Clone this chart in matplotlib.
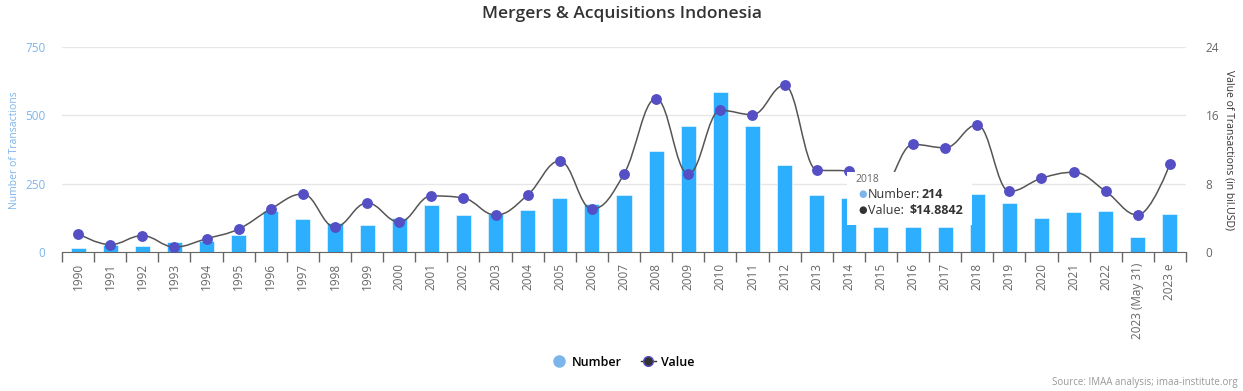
import numpy as np
import matplotlib
matplotlib.use("Agg")
import matplotlib.pyplot as plt
from matplotlib.path import Path
from matplotlib.patches import PathPatch, Rectangle
from matplotlib.lines import Line2D

plt.rcParams['font.family'] = ['Open Sans', 'DejaVu Sans']

# data
years = [str(y) for y in range(1990, 2023)] + ["2023 (May 31)", "2023 e"]
number = [15, 27, 22, 38, 40, 62, 150, 121, 105, 99, 124,
          172, 135, 139, 154, 198, 176, 209, 368, 460, 584,
          460, 317, 209, 198, 90, 90, 90, 214, 179, 124,
          146, 150, 55, 140]
value = [2.15, 0.86, 1.91, 0.59, 1.56, 2.69, 5.04, 6.79, 2.93, 5.74, 3.51,
         6.56, 6.32, 4.33, 6.67, 10.66, 5.04, 9.13, 17.95, 9.13, 16.59,
         16.08, 19.52, 9.6, 9.48, 7.5, 12.6, 12.2, 14.8842, 7.1, 8.63,
         9.33, 7.1, 4.33, 10.3]
left_ticks = [0, 250, 500, 750]
right_ticks = [0, 8, 16, 24]

BAR = "#2caffe"
PT = "#544fc5"
LIGHT = "#7cb5ec"
W, H = 1243, 391


def spline_path(xs, ys, smoothing=1.5):
    """Highcharts-like spline through the points, as bezier segments"""
    n = len(xs)
    left = [(xs[i], ys[i]) for i in range(n)]
    right = [(xs[i], ys[i]) for i in range(n)]
    denom = smoothing + 1
    for i in range(1, n - 1):
        px, py = xs[i], ys[i]
        lx, ly = xs[i - 1], ys[i - 1]
        nx, ny = xs[i + 1], ys[i + 1]
        lcx = (smoothing * px + lx) / denom
        lcy = (smoothing * py + ly) / denom
        rcx = (smoothing * px + nx) / denom
        rcy = (smoothing * py + ny) / denom
        corr = (rcy - lcy) * (rcx - px) / (rcx - lcx) + py - rcy
        lcy += corr
        rcy += corr
        if lcy > ly and lcy > py:
            lcy = max(ly, py); rcy = 2 * py - lcy
        elif lcy < ly and lcy < py:
            lcy = min(ly, py); rcy = 2 * py - lcy
        if rcy > ny and rcy > py:
            rcy = max(ny, py); lcy = 2 * py - rcy
        elif rcy < ny and rcy < py:
            rcy = min(ny, py); lcy = 2 * py - rcy
        left[i] = (lcx, lcy)
        right[i] = (rcx, rcy)
    verts = [(xs[0], ys[0])]
    codes = [Path.MOVETO]
    for i in range(1, n):
        verts += [right[i - 1], left[i], (xs[i], ys[i])]
        codes += [Path.CURVE4] * 3
    return Path(verts, codes)


fig = plt.figure(figsize=(W / 100, H / 100), dpi=100)
ax = fig.add_axes([62 / W, 1 - 252 / H, (1186 - 62) / W, 205 / H])
ax2 = ax.twinx()

x = np.arange(len(years))
ax.bar(x, number, width=0.47, color=BAR, edgecolor="white", linewidth=0.4, zorder=2)
ax.set_xlim(-0.5, len(years) - 0.5)
ax.set_ylim(0, 750)
ax.set_yticks(left_ticks)
ax.grid(axis="y", color="#e6e6e6", linewidth=1, zorder=0)
ax.set_axisbelow(True)

ax.set_xticks(x)
ax.set_xticklabels(years, rotation=90, fontsize=8.5, color="#666666")
ax.set_xticks(np.arange(-0.5, len(years)), minor=True)
ax.tick_params(axis="x", which="major", length=0, pad=8)
ax.tick_params(axis="x", which="minor", length=7, color="#666666", width=1)
ax.tick_params(axis="y", length=0, labelsize=8.5, labelcolor=LIGHT, pad=12)
for s in ["top", "left", "right"]:
    ax.spines[s].set_visible(False)
    ax2.spines[s].set_visible(False)
ax.spines["bottom"].set_color("#666666")
ax2.spines["bottom"].set_visible(False)

ax2.set_ylim(0, 24)
ax2.set_yticks(right_ticks)
ax2.tick_params(axis="y", length=0, labelsize=8.5, labelcolor="#666666", pad=14)

fig.text(15 / W, 1 - 150 / H, "Number of Transactions", rotation=90, ha="center",
         va="center", color=LIGHT, fontsize=7.5)
fig.text(1229 / W, 1 - 150 / H, "Value of Transactions (in bil.USD)", rotation=270,
         ha="center", va="center", color="#333333", fontsize=7.5)

ax2.add_patch(PathPatch(spline_path(list(x), value), facecolor="none",
                        edgecolor="#555555", linewidth=1.1, zorder=3))
ax2.plot(x, value, linestyle="none", marker="o", markersize=6.8, color=PT, zorder=4)

fig.text(0.5, 1 - 14 / H, "Mergers & Acquisitions Indonesia", ha="center", va="center",
         fontsize=12.5, color="#333333", weight="semibold")

# legend
handles = [Line2D([], [], linestyle="none", marker="o", markersize=8, color=LIGHT),
           Line2D([], [], color="#333333", linewidth=1, marker="o", markersize=7,
                  markerfacecolor="#333333", markeredgecolor=PT)]
fig.legend(handles, ["Number", "Value"], loc="center", bbox_to_anchor=(623 / W, 1 - 362 / H),
           ncol=2, frameon=False, handlelength=1.2, columnspacing=1.5,
           handletextpad=0.4, prop={"weight": "semibold", "size": 9})

fig.text(1238 / W, 1 - 383 / H, "Source: IMAA analysis; imaa-institute.org", ha="right",
         va="center", fontsize=7, color="#999999")

# tooltip shown in the screenshot
fig.add_artist(Rectangle((847 / W, 1 - 225 / H), 125 / W, 53 / H, transform=fig.transFigure,
                         facecolor="white", edgecolor="none", zorder=5))
fig.text(855 / W, 1 - 180 / H, "2018", fontsize=7.5, color="#666666", va="center", zorder=6)
fig.text(858 / W, 1 - 194 / H, "●", fontsize=7, color=LIGHT, va="center", zorder=6)
fig.text(868 / W, 1 - 194 / H, "Number:", fontsize=9, color="#333333", va="center", zorder=6)
fig.text(922 / W, 1 - 194 / H, "214", fontsize=9, color="#333333", va="center",
         weight="bold", zorder=6)
fig.text(858 / W, 1 - 210 / H, "●", fontsize=7, color="#333333", va="center", zorder=6)
fig.text(868 / W, 1 - 210 / H, "Value:", fontsize=9, color="#333333", va="center", zorder=6)
fig.text(909 / W, 1 - 210 / H, "$14.8842", fontsize=9, color="#333333", va="center",
         weight="bold", zorder=6)

fig.savefig("out.png", dpi=100)
